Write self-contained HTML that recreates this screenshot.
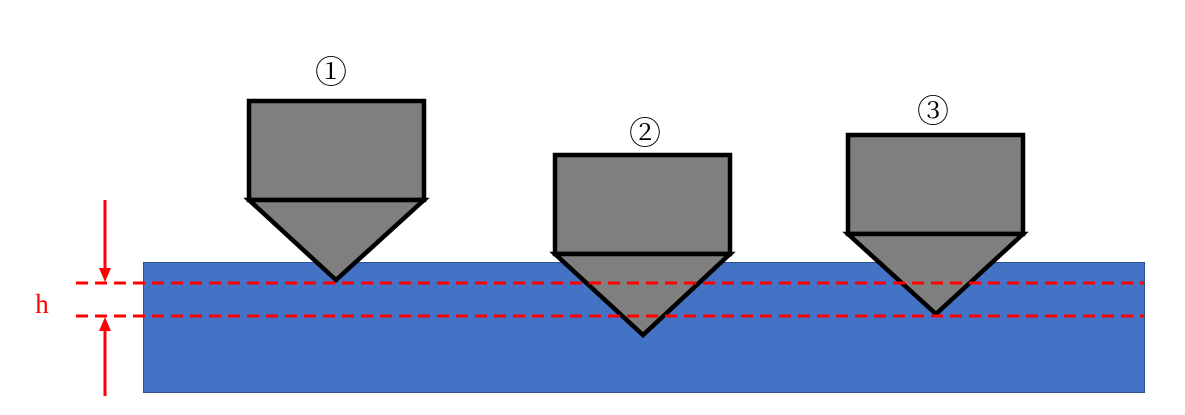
<!DOCTYPE html>
<html><head><meta charset="utf-8"><style>
html,body{margin:0;padding:0;background:#fff;width:1185px;height:415px;overflow:hidden}
</style></head><body>
<svg width="1185" height="415" viewBox="0 0 1185 415" xmlns="http://www.w3.org/2000/svg">
<rect x="143.5" y="262.5" width="1001" height="130" fill="#4472C4" stroke="#2F528F" stroke-width="1"/>
<g fill="#7f7f7f" stroke="#000" stroke-width="4.5" stroke-linejoin="miter">
<rect x="249" y="101" width="175" height="99"/>
<polygon points="249,200 424,200 336,280"/>
<rect x="555" y="155" width="175" height="99"/>
<polygon points="555,254 730,254 643,335"/>
<rect x="848" y="135" width="175" height="99"/>
<polygon points="848,234 1023,234 936,314"/>
</g>
<g stroke="#ff0000" stroke-width="3" stroke-dasharray="12,7">
<line x1="76" y1="283" x2="1144" y2="283"/>
<line x1="76" y1="316" x2="1144" y2="316"/>
</g>
<g stroke="#ff0000" stroke-width="3">
<line x1="105" y1="200" x2="105" y2="272"/>
<line x1="105" y1="396" x2="105" y2="327"/>
</g>
<path d="M99,268 L111,268 L105,282 Z" fill="#ff0000"/>
<path d="M99,331 L111,331 L105,317 Z" fill="#ff0000"/>
<text x="42" y="313" font-family="Liberation Serif, serif" font-size="27" fill="#ff0000" text-anchor="middle">h</text>
<g font-family="Liberation Serif, 'Noto Serif CJK SC', 'Noto Sans CJK JP', serif" font-size="32" fill="#000" text-anchor="middle">
<text x="331" y="83">①</text>
<text x="645" y="144">②</text>
<text x="933" y="122">③</text>
</g>
</svg>
</body></html>
